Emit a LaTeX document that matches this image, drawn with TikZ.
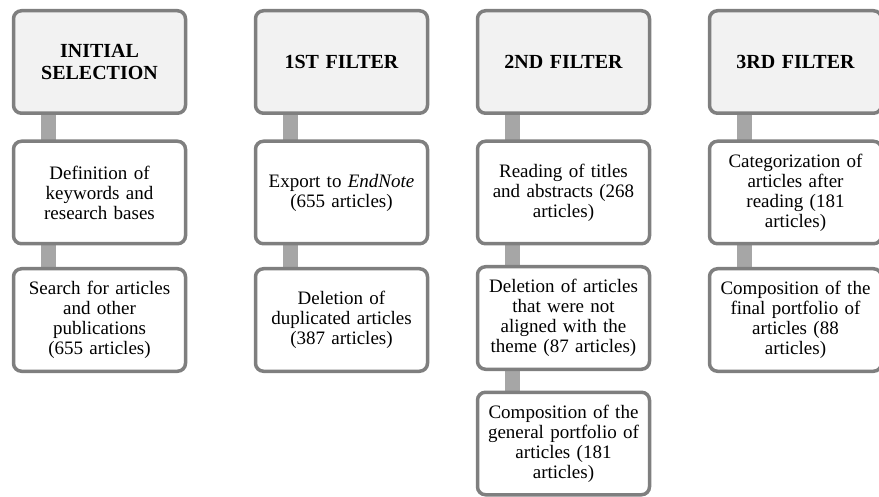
\documentclass[tikz,border=0pt]{standalone}
\usepackage{fontspec}
\setmainfont{Liberation Serif}
\usepackage{xcolor}
\usetikzlibrary{positioning,backgrounds}
\definecolor{rim}{HTML}{7F7F7F}
\definecolor{headfill}{HTML}{F2F2F2}
\definecolor{link}{HTML}{A6A6A6}

\begin{document}
\begin{tikzpicture}[
  box/.style={draw=rim,line width=3.5pt,outer sep=0pt,fill=white,rounded corners=8pt,minimum width=172pt,minimum height=102.5pt,text width=164pt,align=center,inner sep=2pt,font=\fontsize{19}{20}\selectfont},
  head/.style={box,fill=headfill,font=\fontsize{20}{22}\selectfont\bfseries},
  bar/.style={draw=link,line width=15pt}]
\useasboundingbox (0,0) rectangle (879pt,-497pt);
\node[head] (h1) at (99.5pt,-62pt) {INITIAL\\SELECTION};
\node[head,right=70pt of h1] (h2) {1ST FILTER};
\node[head,right=50pt of h2] (h3) {2ND FILTER};
\node[head,right=60pt of h3] (h4) {3RD FILTER};
\node[box,below=28pt of h1] (d1) {Definition of\\keywords and\\research bases};
\node[box,below=25pt of d1] (s1) {Search for articles\\and other\\publications\\(655 articles)};
\node[box,below=28pt of h2] (d2) {Export to \textit{EndNote}\\(655 articles)};
\node[box,below=25pt of d2] (s2) {Deletion of\\duplicated articles\\(387 articles)};
\node[box,below=28pt of h3] (d3) {Reading of titles\\and abstracts (268\\articles)};
\node[box,below=23pt of d3] (s3) {Deletion of articles\\that were not\\aligned with the\\theme (87 articles)};
\node[box,below=23pt of s3] (c3) {Composition of the\\general portfolio of\\articles (181\\articles)};
\node[box,below=28pt of h4] (d4) {Categorization of\\articles after\\reading (181\\articles)};
\node[box,below=25pt of d4] (s4) {Composition of the\\final portfolio of\\articles (88\\articles)};
\begin{scope}[on background layer]
\draw[bar] ([xshift=35pt]h1.south west) -- ([xshift=35pt]d1.north west);
\draw[bar] ([xshift=35pt]d1.south west) -- ([xshift=35pt]s1.north west);
\draw[bar] ([xshift=35pt]h2.south west) -- ([xshift=35pt]d2.north west);
\draw[bar] ([xshift=35pt]d2.south west) -- ([xshift=35pt]s2.north west);
\draw[bar] ([xshift=35pt]h3.south west) -- ([xshift=35pt]d3.north west);
\draw[bar] ([xshift=35pt]d3.south west) -- ([xshift=35pt]s3.north west);
\draw[bar] ([xshift=35pt]s3.south west) -- ([xshift=35pt]c3.north west);
\draw[bar] ([xshift=35pt]h4.south west) -- ([xshift=35pt]d4.north west);
\draw[bar] ([xshift=35pt]d4.south west) -- ([xshift=35pt]s4.north west);
\end{scope}
\end{tikzpicture}
\end{document}
